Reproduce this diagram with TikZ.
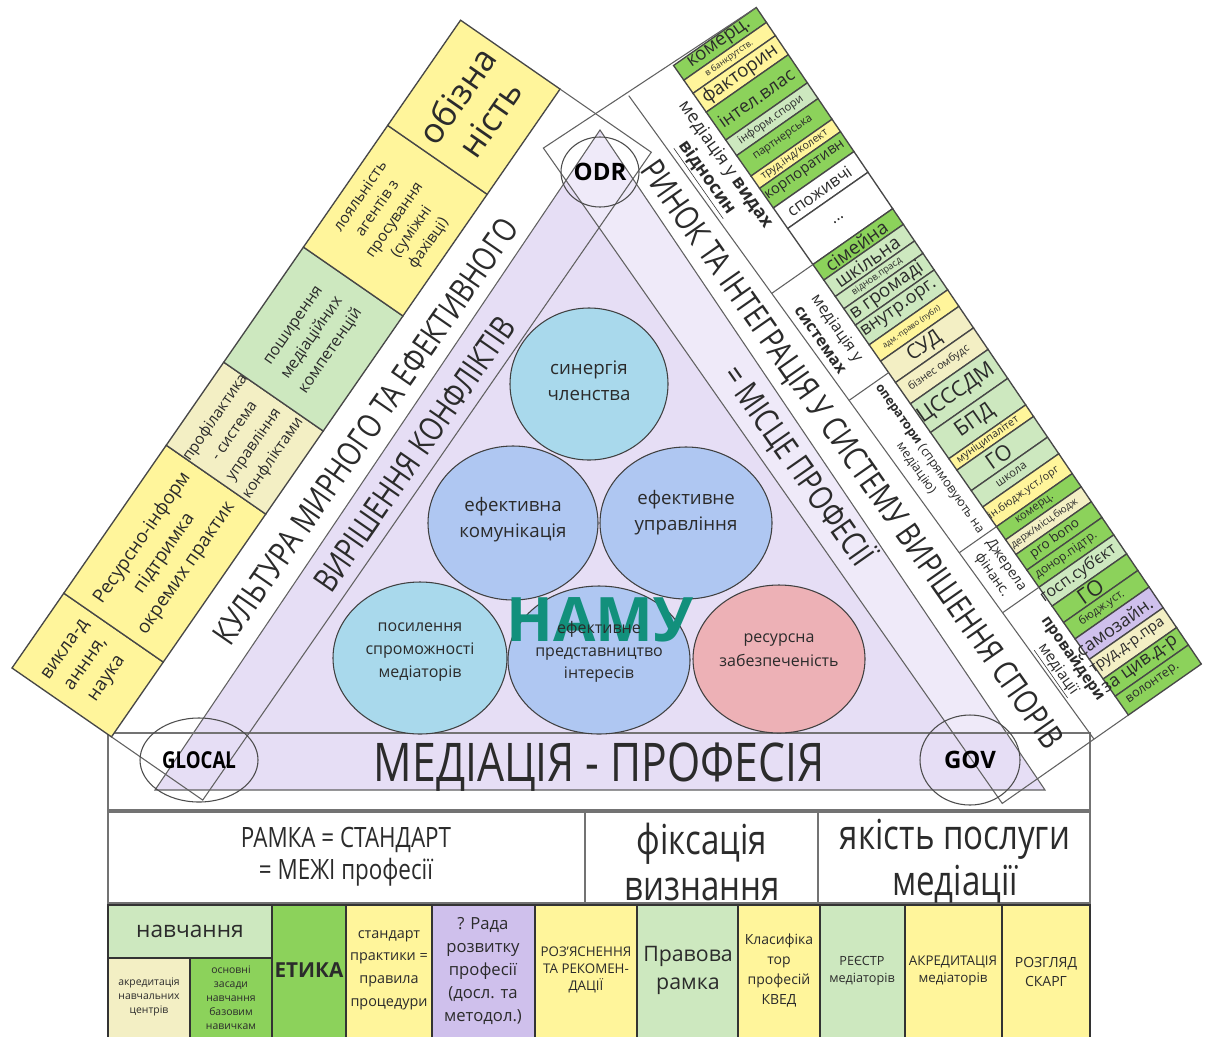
\documentclass[tikz,border=0pt]{standalone}
\usepackage{fontspec}
\setmainfont{Open Sans}
\newfontfamily\cnd[FakeStretch=0.8]{Open Sans}
\usetikzlibrary{shapes.geometric}
\definecolor{cyel}{HTML}{FFF59B}
\definecolor{ckha}{HTML}{F3EFC4}
\definecolor{clgr}{HTML}{CDE8BF}
\definecolor{cgrn}{HTML}{8CD25B}
\definecolor{clav}{HTML}{CFC0EC}
\definecolor{tria}{HTML}{E6DEF5}
\definecolor{trib}{HTML}{EFEAF9}
\definecolor{cblu}{HTML}{A9D9EC}
\definecolor{cper}{HTML}{AFC7F2}
\definecolor{cpnk}{HTML}{EDB1B6}
\definecolor{namu}{HTML}{12907C}
\definecolor{txt}{HTML}{2B2B2B}
\newcommand{\fsz}[2]{\fontsize{#1pt}{#2pt}\selectfont}
\tikzset{
  ln/.style={draw=black!62, line width=0.8pt},
  cellbox/.style={draw=black!72, line width=1pt},
  rowbox/.style={draw=black!80, line width=1.3pt},
  row2box/.style={draw=black!55, line width=1pt},
  tx/.style={text=txt, align=center, inner sep=0pt},
  bub/.style={ellipse, draw=black!75, line width=0.8pt, inner sep=0pt},
  ring/.style={ellipse, draw=black!70, line width=0.8pt, inner sep=0pt, text=black},
}
\newcommand{\rcell}[6]{%
  \filldraw[fill=#3, cellbox] (#1,{12*(#1)/790}) -- (#2,{12*(#2)/790}) -- (#2,101) -- (#1,101) -- cycle;
  \node[tx, rotate=90, font=\fsz{#5}{#5}] (#4) at ({((#1)+(#2))/2},{51+6*((#1)+(#2))/790}) {#6};}
\begin{document}
\begin{tikzpicture}[x=0.75pt,y=-0.75pt]
\useasboundingbox (0,0) rectangle (1206,1036);
\clip (0,0) rectangle (1206,1036);
\fill[white] (0,0) rectangle (1206,1036);

% ---------- lavender triangle ----------
\coordinate (A) at (600,130);
\coordinate (BL) at (155,790);
\coordinate (BR) at (1045,790);
\fill[tria] (A) -- (BL) -- (BR) -- cycle;
\begin{scope}
  \clip (A) -- (BL) -- (BR) -- cycle;
  \clip (0,0) rectangle (1206,733);
  \fill[trib] (543.4,148.1) -- (1002.2,803.5) -- (1206,803.5) -- (1206,0) -- cycle;
\end{scope}
\draw[ln] (A) -- (BL) -- (BR) -- cycle;

% ---------- bottom band box ----------
\draw[row2box] (108,733) rectangle (1090,810);

% ---------- left group ----------
\begin{scope}[shift={(12,668)}, rotate=55.3, transform shape]
  \filldraw[fill=cyel, cellbox] (0,0) rectangle (91,121);
  \filldraw[fill=cyel, cellbox] (91,0) rectangle (271,121);
  \filldraw[fill=ckha, cellbox] (271,0) rectangle (372,121);
  \filldraw[fill=clgr, cellbox] (372,0) rectangle (512,121);
  \filldraw[fill=cyel, cellbox] (512,0) rectangle (660,121);
  \filldraw[fill=cyel, cellbox] (660,0) rectangle (788,121);
  \draw[ln] (0,121) -- (0,232) -- (788,232) -- (788,121);
  \node[tx, font=\fsz{14}{19}] (l1) at (45.5,60) {викла-д\\анння,\\наука};
  \node[tx, font=\fsz{14}{20}] (l2) at (181,60) {Ресурсно-інформ\\підтримка\\окремих практик};
  \node[tx, font=\fsz{11.5}{17.5}] (l3) at (321.5,60) {профілактика\\- система\\управління\\конфліктами};
  \node[tx, font=\fsz{12}{17}] (l4) at (442,60) {поширення\\медіаційних\\компетенцій};
  \node[tx, font=\fsz{11.5}{15.5}] (l5) at (586,60) {лояльність\\агентів з\\просування\\(суміжні\\фахівці)};
  \node[tx, font=\fsz{26}{30}] (l6) at (724,60) {обізна\\ність};
  \node[tx, font=\cnd\fsz{25}{25}] (kult) at (396,156) {КУЛЬТУРА МИРНОГО ТА ЕФЕКТИВНОГО};
  \node[tx, font=\cnd\fsz{25}{25}] (vyr) at (405,209) {ВИРІШЕННЯ КОНФЛІКТІВ};
\end{scope}

% ---------- right group ----------
\begin{scope}[shift={(758,10)}, rotate=-55, transform shape]
  \rcell{-3}{15}{cgrn}{r1}{14}{комерц.}
  \rcell{15}{31}{cyel}{r2}{6.5}{в банкрутств.}
  \rcell{31}{54}{cyel}{r3}{14}{факторин}
  \rcell{54}{88}{cgrn}{r4}{13.5}{інтел.влас}
  \rcell{88}{107}{clgr}{r5}{8.5}{інформ.спори}
  \rcell{107}{132}{cgrn}{r6}{8.5}{партнерська}
  \rcell{132}{147}{cyel}{r7}{8}{труд.інд/колект}
  \rcell{147}{171}{cgrn}{r8}{11}{корпоративн}
  \rcell{171}{196}{white}{r9}{12.5}{споживчі}
  \rcell{196}{240}{white}{r10}{12}{...}
  \rcell{240}{259}{cgrn}{r11}{14}{сімейна}
  \rcell{259}{279}{clgr}{r12}{14}{шкільна}
  \rcell{279}{294}{clgr}{r13}{7}{віднов.прасд}
  \rcell{294}{314}{clgr}{r14}{14}{в громаді}
  \rcell{314}{338}{clgr}{r15}{13.5}{внутр.орг.}
  \rcell{338}{358}{cyel}{r16}{6}{адм.-право (публ)}
  \rcell{358}{384}{ckha}{r17}{15}{СУД}
  \rcell{384}{410}{ckha}{r18}{8}{бізнес омбудс}
  \rcell{410}{445}{clgr}{r19}{16}{ЦСССДМ}
  \rcell{445}{477}{clgr}{r20}{16}{БПД}
  \rcell{477}{491}{cyel}{r21}{8}{муніципалітет}
  \rcell{491}{516}{clgr}{r22}{16}{ГО}
  \rcell{516}{536}{clgr}{r23}{8.5}{школа}
  \rcell{536}{560}{cyel}{r24}{8}{ін.бюдж.уст./орг}
  \rcell{560}{576}{cgrn}{r25}{8.5}{комерц.}
  \rcell{576}{594}{ckha}{r26}{7.5}{держ/місц.бюдж}
  \rcell{594}{613}{cgrn}{r27}{10}{pro bono}
  \rcell{613}{634}{cgrn}{r28}{9}{донор.підтр.}
  \rcell{634}{657}{clgr}{r29}{12}{госп.суб'єкт}
  \rcell{657}{677}{cgrn}{r30}{16}{ГО}
  \rcell{677}{697}{cgrn}{r31}{8.5}{бюдж.уст.}
  \rcell{697}{722}{clav}{r32}{13.5}{самозайн.}
  \rcell{722}{746}{ckha}{r33}{11}{труд.д-р.пра}
  \rcell{746}{767}{cgrn}{r34}{13.5}{за цив.д-р}
  \rcell{767}{790}{cgrn}{r35}{9.5}{волонтер.}
  % label strip
  \draw[ln] (-4,155) -- (790,143);
  \draw[ln] (240,101) -- (240,{155-12*240/790});
  \draw[ln] (372,101) -- (372,{155-12*372/790});
  \draw[ln] (560,101) -- (560,{155-12*560/790});
  \draw[ln] (634,101) -- (634,{155-12*634/790});
  % group ends and inner edge
  \draw[ln] (-3,0) -- (-10,255) -- (790,255) -- (790,101);
  \node[tx, font=\fsz{13.5}{17}] (L1) at (108,128) {медіація у \textbf{видах}\\\underline{\textbf{відносин}}};
  \node[tx, font=\fsz{12}{15.5}] (L2) at (306,127) {медіація у\\\textbf{системах}};
  \node[tx, font=\fsz{9.5}{12.5}] (L3) at (466,125) {\textbf{оператори} (спрямовують на\\медіацію)};
  \node[tx, font=\fsz{10.5}{13}] (L4) at (597,124) {Джерела\\фінанс.};
  \node[tx, font=\fsz{11.5}{13.5}] (L5) at (712,124) {\textbf{провайдери}\\\underline{медіації}};
  \node[tx, font=\cnd\fsz{25}{25}] (rynok) at (418,180) {РИНОК ТА ІНТЕГРАЦІЯ У СИСТЕМУ ВИРІШЕННЯ СПОРІВ};
  \node[tx, font=\cnd\fsz{25}{25}] (misce) at (396,228) {= МІСЦЕ ПРОФЕСІЇ};
\end{scope}

% ---------- circles ----------
\node[bub, fill=cblu, minimum width=118.5pt, minimum height=114pt] (c1) at (589,384) {};
\node[bub, fill=cper, minimum width=127.5pt, minimum height=115.5pt] (c2) at (513,523) {};
\node[bub, fill=cper, minimum width=129pt, minimum height=114pt] (c3) at (686,523) {};
\node[bub, fill=cblu, minimum width=130.5pt, minimum height=114pt] (c4) at (420,658) {};
\node[bub, fill=cpnk, minimum width=129pt, minimum height=111pt] (c6) at (779,659) {};
\node[bub, fill=cper, minimum width=136.5pt, minimum height=111pt] (c5) at (599,660) {};
\node[text=namu, font=\bfseries\fsz{46}{46}, inner sep=0pt] (namu) at (600,620) {НАМУ};
\node[tx, font=\fsz{14}{19.5}] (t1) at (589,381) {синергія\\членства};
\node[tx, font=\fsz{14}{19.5}] (t2) at (513,520) {ефективна\\комунікація};
\node[tx, font=\fsz{14}{19.5}] (t3) at (686,513) {ефективне\\управління};
\node[tx, font=\fsz{12}{17}] (t4) at (420,652) {посилення\\спроможності\\медіаторів};
\node[tx, font=\fsz{12}{17}] (t5) at (599,652) {ефективне\\представництво\\інтересів};
\node[tx, font=\fsz{12}{18}] (t6) at (779,650) {ресурсна\\забезпеченість};

% ---------- corner rings ----------
\node[ring, minimum width=58.5pt, minimum height=52.5pt, font=\bfseries\fsz{18}{18}] (odr) at (600,172) {ODR};
\node[ring, minimum width=88.5pt, minimum height=63pt, font=\cnd\bfseries\fsz{17.5}{17.5}] (glocal) at (199,760) {GLOCAL};
\node[ring, minimum width=75pt, minimum height=67.5pt, font=\bfseries\fsz{18}{18}] (gov) at (970,760) {GOV};
\node[tx, font=\cnd\fsz{40}{40}] (prof) at (599,767) {МЕДІАЦІЯ - ПРОФЕСІЯ};

% ---------- row 2 ----------
\draw[row2box] (108,812) rectangle (585,903);
\draw[row2box] (585,812) rectangle (818,903);
\draw[row2box] (818,812) rectangle (1090,903);
\node[tx, font=\cnd\fsz{21}{24}] (ramka) at (346,857) {РАМКА = СТАНДАРТ\\= МЕЖІ професії};
\node[tx, font=\cnd\fsz{31}{34}] (fiks) at (702,862) {фіксація\\визнання};
\node[tx, font=\cnd\fsz{31}{34}] (yakist) at (955,861) {якість послуги\\медіації};

% ---------- row 3 ----------
\filldraw[fill=clgr, rowbox] (108,905) rectangle (272,958);
\filldraw[fill=ckha, rowbox] (108,958) rectangle (190,1045);
\filldraw[fill=cgrn, rowbox] (190,958) rectangle (272,1045);
\filldraw[fill=cgrn, rowbox] (272,905) rectangle (346,1045);
\filldraw[fill=cyel, rowbox] (346,905) rectangle (432,1045);
\filldraw[fill=clav, rowbox] (432,905) rectangle (535,1045);
\filldraw[fill=cyel, rowbox] (535,905) rectangle (637,1045);
\filldraw[fill=clgr, rowbox] (637,905) rectangle (738,1045);
\filldraw[fill=cyel, rowbox] (738,905) rectangle (820,1045);
\filldraw[fill=clgr, rowbox] (820,905) rectangle (905,1045);
\filldraw[fill=cyel, rowbox] (905,905) rectangle (1002,1045);
\filldraw[fill=cyel, rowbox] (1002,905) rectangle (1090,1045);
\node[tx, font=\fsz{17}{17}] (b1) at (190,931) {навчання};
\node[tx, font=\fsz{7.8}{10.5}] (b2) at (149,997) {акредитація\\навчальних\\центрів};
\node[tx, font=\fsz{7.8}{10.5}] (b3) at (231,998) {основні\\засади\\навчання\\базовим\\навичкам};
\node[tx, font=\bfseries\fsz{15.5}{15.5}] (b4) at (309,970) {ЕТИКА};
\node[tx, font=\fsz{10.8}{17}] (b5) at (389,970) {стандарт\\практики =\\правила\\процедури};
\node[tx, font=\fsz{12.5}{17.3}] (b6) at (483,971) {? Рада\\розвитку\\професії\\(досл. та\\методол.)};
\node[tx, font=\fsz{10}{13}] (b7) at (586,970) {РОЗ'ЯСНЕННЯ\\ТА РЕКОМЕН-\\ДАЦІЇ};
\node[tx, font=\fsz{16}{21}] (b8) at (688,970) {Правова\\рамка};
\node[tx, font=\fsz{10.5}{15}] (b9) at (779,970) {Класифіка\\тор\\професій\\КВЕД};
\node[tx, font=\fsz{9.5}{13}] (b10) at (862,971) {РЕЄСТР\\медіаторів};
\node[tx, font=\fsz{10}{13}] (b11) at (953,971) {АКРЕДИТАЦІЯ\\медіаторів};
\node[tx, font=\fsz{10.5}{14}] (b12) at (1046,972) {РОЗГЛЯД\\СКАРГ};
\end{tikzpicture}
\end{document}
